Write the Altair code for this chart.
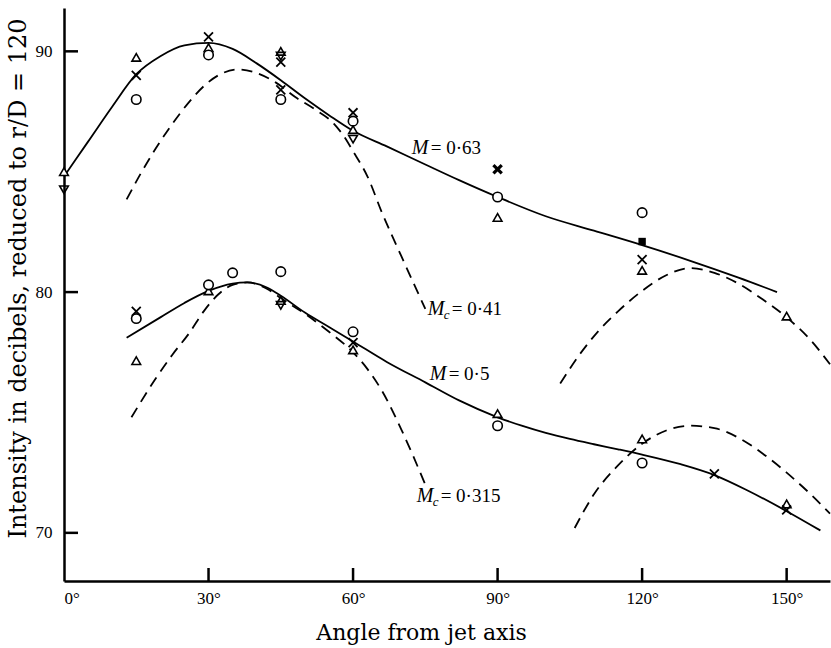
import altair as alt
import pandas as pd

FONT = "Liberation Serif"
TFONT = "DejaVu Serif"

# ---- solid curves (angle in degrees, intensity in dB) ----
m063_angle = [0, 5, 10, 15, 20, 25, 30, 35, 40, 45, 50, 55, 60, 67, 75, 82, 90, 100, 110, 120, 130, 140, 148]
m063_db = [84.8, 86.25, 87.7, 89.05, 89.8, 90.25, 90.35, 90.1, 89.5, 88.8, 88.05, 87.35, 86.7, 86.05, 85.3, 84.65, 83.95, 83.15, 82.55, 81.95, 81.3, 80.6, 80.0]

m05_angle = [13, 20, 25, 30, 35, 38, 42, 45, 50, 55, 60, 67, 75, 82, 90, 95, 100, 105, 110, 115, 120, 128, 135, 142, 150, 157]
m05_db = [78.1, 78.95, 79.55, 80.05, 80.35, 80.4, 80.2, 79.85, 79.15, 78.55, 77.95, 77.1, 76.25, 75.5, 74.8, 74.45, 74.15, 73.9, 73.68, 73.47, 73.25, 72.85, 72.4, 71.75, 70.9, 70.1]

# ---- dashed curves ----
mc041_angle = [13, 16, 19, 22, 26, 29, 32, 36, 40, 44, 48, 52, 56, 58, 60, 63, 66, 70, 75]
mc041_db = [83.85, 84.95, 85.95, 86.85, 87.9, 88.55, 89.0, 89.25, 89.1, 88.7, 88.1, 87.6, 87.0, 86.5, 85.85, 84.8, 83.3, 81.5, 79.3]

mc0315_angle = [14, 19, 22.5, 26, 29, 32, 35, 38, 42, 45, 50, 55, 60, 63, 66, 70, 75]
mc0315_db = [74.8, 76.4, 77.4, 78.3, 79.2, 79.9, 80.3, 80.4, 80.15, 79.75, 79.1, 78.35, 77.5, 76.8, 75.9, 74.3, 72.0]

upper_right_angle = [103, 107, 111, 115, 120, 125, 130, 135, 140, 145, 150, 155, 159]
upper_right_db = [76.2, 77.4, 78.4, 79.2, 80.05, 80.7, 81.0, 80.8, 80.35, 79.7, 78.95, 78.0, 77.0]

lower_right_angle = [106, 110, 115, 120, 125, 130, 135, 140, 145, 150, 155, 159]
lower_right_db = [70.2, 71.6, 72.8, 73.7, 74.25, 74.45, 74.35, 73.95, 73.3, 72.5, 71.6, 70.8]

# ---- measured points ----
tri_up_angle = [0, 15, 30, 45, 60, 90, 120, 150, 15, 30, 45, 60, 90, 120, 150]
tri_up_db = [85.0, 89.75, 90.15, 90.0, 86.75, 83.1, 80.9, 79.0, 77.15, 80.05, 79.65, 77.6, 74.95, 73.9, 71.2]

tri_down_angle = [0, 45, 60, 45]
tri_down_db = [84.25, 89.8, 86.35, 79.45]

circle_angle = [15, 30, 45, 60, 90, 120, 15, 30, 35, 45, 60, 90, 120]
circle_db = [88.0, 89.85, 88.0, 87.1, 83.95, 83.3, 78.9, 80.3, 80.8, 80.85, 78.35, 74.45, 72.9]

cross_angle = [15, 30, 45, 45, 60, 120, 15, 60, 135, 150]
cross_db = [89.0, 90.6, 89.55, 88.4, 87.45, 81.35, 79.2, 77.9, 72.45, 70.95]

bold_cross_angle = [90]
bold_cross_db = [85.1]

square_angle = [120]
square_db = [82.1]

# ---- axis ticks ----
x_ticks = [0, 30, 60, 90, 120, 150]
y_ticks = [70, 80, 90]

# ---- curve labels ----
lab_plain_angle = [72.2, 75.9]
lab_plain_db = [85.72, 76.33]
lab_plain_text = ["= 0·63", "= 0·5"]
lab_sub_angle = [75.5, 73.2]
lab_sub_db = [79.03, 71.3]
lab_sub_text = ["= 0·41", "= 0·315"]

W, H = 766, 573
X_MIN, X_MAX = 0, 159
Y_MIN, Y_MAX = 68.0, 91.8
xscale = alt.Scale(domain=[X_MIN, X_MAX], nice=False, zero=False)
yscale = alt.Scale(domain=[Y_MIN, Y_MAX], nice=False, zero=False)

xaxis = alt.Axis(
    values=x_ticks, labelExpr="datum.value + '°'", ticks=False, grid=False,
    domainColor="black", domainWidth=2.5, labelFont=FONT, labelFontSize=17,
    labelColor="black", labelPadding=9, title="Angle from jet axis",
    titleFont=TFONT, titleFontSize=22, titleFontWeight="normal", titleColor="black",
    titleX=357, titleY=58, titleBaseline="alphabetic",
)
yaxis = alt.Axis(
    values=y_ticks, ticks=False, grid=False, domainColor="black", domainWidth=2.5,
    labelFont=FONT, labelFontSize=17, labelColor="black", labelPadding=12,
    title="Intensity in decibels, reduced to r/D = 120", titleFont=TFONT,
    titleFontSize=24, titleFontWeight="normal", titleColor="black",
    titleX=-39, titleY=270, titleBaseline="alphabetic", titleAngle=-90,
)


def X(field="angle"):
    return alt.X(f"{field}:Q", scale=xscale, axis=xaxis)


def Y(field="db"):
    return alt.Y(f"{field}:Q", scale=yscale, axis=yaxis)


def curve_df(pairs):
    rows = []
    for name, a, d in pairs:
        for i, (aa, dd) in enumerate(zip(a, d)):
            rows.append({"curve": name, "angle": aa, "db": dd, "order": i})
    return pd.DataFrame(rows)


solid_df = curve_df([("M=0.63", m063_angle, m063_db), ("M=0.5", m05_angle, m05_db)])
dashed_df = curve_df([
    ("Mc=0.41", mc041_angle, mc041_db), ("Mc=0.315", mc0315_angle, mc0315_db),
    ("right upper", upper_right_angle, upper_right_db), ("right lower", lower_right_angle, lower_right_db),
])

solid = alt.Chart(solid_df).mark_line(
    color="black", strokeWidth=1.8, interpolate="monotone"
).encode(x=X(), y=Y(), detail="curve:N", order="order:Q")

dashed = alt.Chart(dashed_df).mark_line(
    color="black", strokeWidth=1.8, strokeDash=[11, 7], interpolate="monotone"
).encode(x=X(), y=Y(), detail="curve:N", order="order:Q")


def pts(a, d):
    return pd.DataFrame({"angle": a, "db": d})


tri_up = alt.Chart(pts(tri_up_angle, tri_up_db)).mark_point(
    shape="triangle-up", size=75, filled=True, fill="white", stroke="black", strokeWidth=1.6, opacity=1
).encode(x=X(), y=Y())
tri_down = alt.Chart(pts(tri_down_angle, tri_down_db)).mark_point(
    shape="triangle-down", size=75, filled=False, stroke="black", strokeWidth=1.6, opacity=1
).encode(x=X(), y=Y())
circles = alt.Chart(pts(circle_angle, circle_db)).mark_point(
    shape="circle", size=90, filled=True, fill="white", stroke="black", strokeWidth=1.6, opacity=1
).encode(x=X(), y=Y())
cross_path = "M-1,-1L1,1M1,-1L-1,1"
crosses = alt.Chart(pts(cross_angle, cross_db)).mark_point(
    shape=cross_path, size=80, filled=False, stroke="black", strokeWidth=1.8, opacity=1
).encode(x=X(), y=Y())
bold_cross = alt.Chart(pts(bold_cross_angle, bold_cross_db)).mark_point(
    shape=cross_path, size=70, filled=False, stroke="black", strokeWidth=3.2, opacity=1
).encode(x=X(), y=Y())
square = alt.Chart(pts(square_angle, square_db)).mark_point(
    shape="square", size=55, filled=True, color="black", opacity=1
).encode(x=X(), y=Y())

# inward-pointing tick marks, drawn through the scales (tick length in data units)
ytick_len = 14 / W * (X_MAX - X_MIN)
xtick_len = 13 / H * (Y_MAX - Y_MIN)
ytick_df = pd.DataFrame({"angle": [X_MIN] * len(y_ticks), "angle2": [X_MIN + ytick_len] * len(y_ticks),
                         "db": y_ticks, "db2": y_ticks})
xtick_df = pd.DataFrame({"angle": x_ticks[1:], "angle2": x_ticks[1:],
                         "db": [Y_MIN] * (len(x_ticks) - 1), "db2": [Y_MIN + xtick_len] * (len(x_ticks) - 1)})
tick_df = pd.concat([ytick_df, xtick_df], ignore_index=True)
tick_marks = alt.Chart(tick_df).mark_rule(color="black", strokeWidth=2.5).encode(
    x=X(), x2="angle2:Q", y=Y(), y2="db2:Q"
)

lp = pts(lab_plain_angle, lab_plain_db).assign(t=lab_plain_text)
ls = pts(lab_sub_angle, lab_sub_db).assign(t=lab_sub_text)
text_style = dict(font=FONT, color="black", align="left", baseline="alphabetic")
m_plain = alt.Chart(lp).mark_text(text="M", fontSize=20, fontStyle="italic", **text_style).encode(x=X(), y=Y())
v_plain = alt.Chart(lp).mark_text(fontSize=19, dx=19, **text_style).encode(x=X(), y=Y(), text="t:N")
m_sub = alt.Chart(ls).mark_text(text="M", fontSize=20, fontStyle="italic", **text_style).encode(x=X(), y=Y())
c_sub = alt.Chart(ls).mark_text(text="c", fontSize=13, fontStyle="italic", dx=16, dy=4, **text_style).encode(x=X(), y=Y())
v_sub = alt.Chart(ls).mark_text(fontSize=19, dx=24, **text_style).encode(x=X(), y=Y(), text="t:N")

chart = alt.layer(
    dashed, solid, tri_up, tri_down, circles, crosses, bold_cross, square,
    tick_marks, m_plain, v_plain, m_sub, c_sub, v_sub,
).properties(
    width=W, height=H,
    autosize=alt.AutoSizeParams(type="none"),
    padding={"left": 64, "top": 8, "right": 1, "bottom": 67},
    background="white",
).configure_view(stroke=None)

chart.save("out.html", embed_options={"renderer": "svg", "actions": False})
